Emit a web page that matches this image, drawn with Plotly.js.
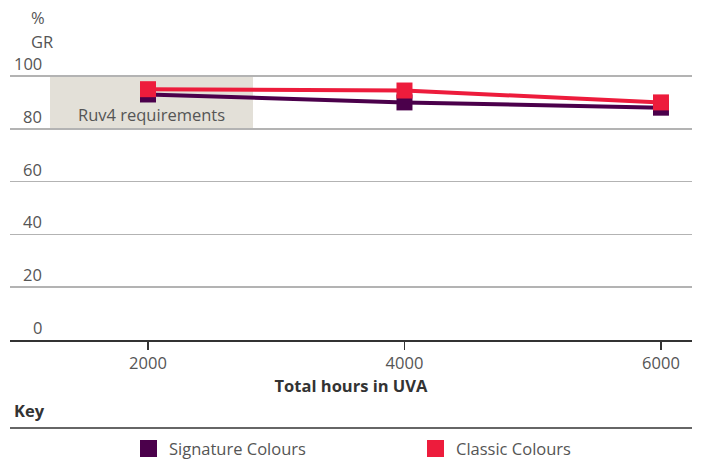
<!DOCTYPE html>
<html><head><meta charset="utf-8">
<script src="https://cdn.plot.ly/plotly-3.0.1.min.js"></script>
<style>html,body{margin:0;padding:0;background:#fff}#c{width:701px;height:463px}</style>
</head><body><div id="c"></div>
<script>
const hours = [2000, 4000, 6000];
const signature = [93, 90, 88];
const classic = [95, 94.5, 90];
const seriesNames = ['Signature Colours', 'Classic Colours'];
const seriesColors = ['#4b004b', '#ed1c3c'];
const yTicks = [0, 20, 40, 60, 80, 100];
const yTickLabels = ['0', '20', '40', '60', '80', '100'];
const xTicks = [2000, 4000, 6000];
const xTickLabels = ['2000', '4000', '6000'];
const reqBand = {x0: 1236, x1: 2819, y0: 80, y1: 100};

const FONT = 'Open Sans, sans-serif';
const W = 701, H = 463, ML = 10, MR = 9, MT = 73, MB = 123;
const PW = W - ML - MR, PH = H - MT - MB;
const PX_PER_UNIT = 2.64;
const yMax = PH / PX_PER_UNIT;
function px(pix) { return (pix - ML) / PW; }
function py(pix) { return (H - MB - pix) / PH; }

const traces = [
  {x: hours, y: signature, name: seriesNames[0], mode: 'lines+markers', type: 'scatter',
   line: {color: seriesColors[0], width: 4}, marker: {symbol: 'square', size: 16, color: seriesColors[0]}},
  {x: hours, y: classic, name: seriesNames[1], mode: 'lines+markers', type: 'scatter',
   line: {color: seriesColors[1], width: 4}, marker: {symbol: 'square', size: 16, color: seriesColors[1]}}
];

const annotations = yTicks.map((v, i) => ({
  x: px(44), xref: 'paper', y: v, yref: 'y', text: yTickLabels[i], showarrow: false,
  xanchor: 'right', yanchor: 'bottom', yshift: -1, font: {family: FONT, size: 16.5, color: '#555'}
}));
annotations.push(
  {x: px(29), xref: 'paper', y: py(42), yref: 'paper', yanchor: 'middle', text: 'GR', showarrow: false, font: {family: FONT, size: 16.5, color: '#555'}},
  {x: px(29), xref: 'paper', y: py(18), yref: 'paper', yanchor: 'middle', text: '%', showarrow: false, font: {family: FONT, size: 16.5, color: '#555'}},
  {x: (reqBand.x0 + reqBand.x1) / 2, xref: 'x', y: reqBand.y0, yref: 'y', yanchor: 'bottom', yshift: 1,
   text: 'Ruv4 requirements', showarrow: false, font: {family: FONT, size: 16.5, color: '#555'}},
  {x: px(12), xref: 'paper', xanchor: 'left', y: py(410), yref: 'paper', yanchor: 'middle', text: 'Key', showarrow: false,
   font: {family: FONT, size: 16.5, color: '#333', weight: 'bold'}}
);

const shapes = [
  {type: 'rect', xref: 'x', yref: 'y', x0: reqBand.x0, x1: reqBand.x1, y0: reqBand.y0, y1: reqBand.y1,
   fillcolor: '#e3e0d8', line: {width: 0}, layer: 'below'},
  {type: 'line', xref: 'paper', yref: 'paper', x0: 0, x1: 1, y0: py(428), y1: py(428), line: {color: '#333', width: 1.5}}
];
const legX = [140, 427];
seriesNames.forEach((n, i) => {
  shapes.push({type: 'rect', xref: 'paper', yref: 'paper', x0: px(legX[i]), x1: px(legX[i] + 17),
    y0: py(457), y1: py(440), fillcolor: seriesColors[i], line: {width: 0}});
  annotations.push({xref: 'paper', yref: 'paper', x: px(legX[i] + 27), y: py(448), xanchor: 'left', yanchor: 'middle',
    text: n, showarrow: false, font: {family: FONT, size: 16.5, color: '#555'}});
});

const layout = {
  width: W, height: H,
  margin: {l: ML, r: MR, t: MT, b: MB},
  paper_bgcolor: '#fff', plot_bgcolor: '#fff',
  showlegend: false,
  font: {family: FONT, color: '#555'},
  xaxis: {range: [924, 6242], tickvals: xTicks, ticktext: xTickLabels, ticks: 'outside', ticklen: 8,
    tickcolor: '#333', tickwidth: 1.5, showgrid: false, zeroline: false, showline: true, linecolor: '#333', linewidth: 1.5,
    tickfont: {family: FONT, size: 16.5, color: '#555'},
    title: {text: 'Total hours in UVA', font: {family: FONT, size: 16.5, color: '#333', weight: 'bold'}, standoff: 5}},
  yaxis: {range: [0, yMax], tickvals: yTicks, showticklabels: false, showgrid: true, gridcolor: '#b3b3b3', gridwidth: 1.5,
    zeroline: false, showline: false},
  shapes: shapes,
  annotations: annotations
};

Plotly.newPlot('c', traces, layout, {displayModeBar: false, staticPlot: true});
</script></body></html>
